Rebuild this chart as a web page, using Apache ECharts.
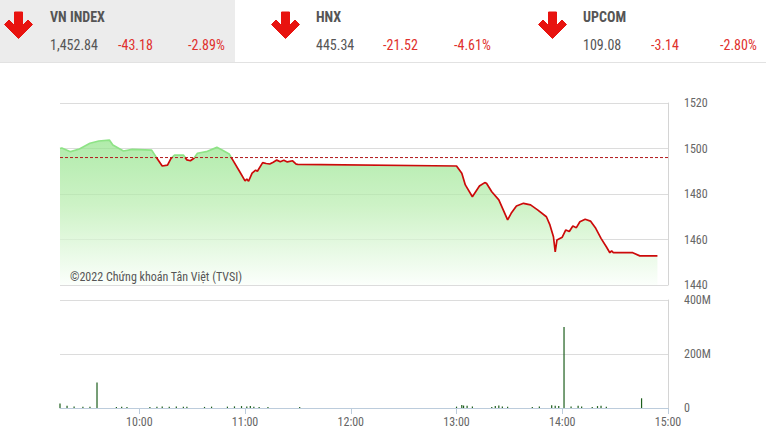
<!DOCTYPE html>
<html>
<head>
<meta charset="utf-8">
<script src="https://cdn.jsdelivr.net/npm/echarts@6/dist/echarts.min.js"></script>
<style>
html,body{margin:0;padding:0;background:#fff;}
#c{width:766px;height:441px;}
</style>
</head>
<body>
<div id="c"></div>
<script>
// ---- Data ----
const indexNames = ['VN INDEX', 'HNX', 'UPCOM'];
const indexValues = ['1,452.84', '445.34', '109.08'];
const indexChanges = ['-43.18', '-21.52', '-3.14'];
const indexPercents = ['-2.89%', '-4.61%', '-2.80%'];

const prevClose = 1496.02;
const priceTimes = ['09:15','09:16','09:21','09:26','09:32','09:37','09:43','09:45','09:51','09:56','10:07','10:10','10:13','10:16','10:18','10:20','10:25','10:27','10:29','10:31','10:33','10:38','10:44','10:47','10:51','10:53','10:57','11:00','11:01','11:02','11:04','11:06','11:07','11:10','11:12','11:14','11:16','11:18','11:20','11:22','11:24','11:27','11:29','11:30','13:00','13:03','13:05','13:09','13:13','13:16','13:17','13:20','13:24','13:29','13:31','13:34','13:38','13:42','13:46','13:51','13:53','13:55','13:56','13:57','14:00','14:02','14:04','14:06','14:08','14:10','14:13','14:16','14:19','14:22','14:25','14:27','14:28','14:29','14:40','14:44','14:54'];
const priceValues = [1500.0,1500.2,1498.6,1499.8,1502.3,1503.3,1503.7,1501.5,1498.9,1499.6,1499.3,1495.7,1492.3,1492.7,1495.7,1497.1,1497.1,1495.0,1494.6,1495.7,1497.9,1498.6,1500.5,1499.3,1497.6,1495.0,1489.8,1485.8,1486.6,1485.6,1489.2,1490.5,1490.0,1493.8,1493.4,1493.2,1494.0,1494.9,1494.2,1494.8,1494.1,1494.6,1493.1,1493.0,1492.3,1489.1,1484.0,1478.8,1483.5,1485.0,1484.7,1481.0,1477.4,1468.6,1471.5,1474.7,1475.9,1475.2,1473.0,1470.0,1466.4,1461.2,1454.6,1459.8,1461.0,1464.2,1463.5,1465.9,1465.2,1467.8,1468.9,1468.1,1464.9,1460.5,1456.8,1454.2,1455.0,1454.2,1454.2,1452.8,1452.8];

const volTimes = ['09:15','09:19','09:23','09:28','09:32','09:36','09:47','09:50','09:53','10:06','10:10','10:13','10:17','10:21','10:25','10:27','10:37','10:41','10:50','10:54','10:58','11:01','11:03','11:05','11:08','11:13','11:31','13:00','13:03','13:04','13:06','13:09','13:20','13:22','13:24','13:26','13:29','13:43','13:47','13:54','13:56','13:58','14:01','14:05','14:09','14:11','14:17','14:20','14:22','14:25','14:45'];
const volValues = [17,8,6,5,5,94,4,5,4,4,5,6,5,6,5,5,4,5,5,6,7,6,7,5,4,4,4,5,11,9,8,6,4,7,9,6,5,4,6,10,8,7,300,6,8,6,4,7,8,5,36];

const timeTicks = ['10:00','11:00','12:00','13:00','14:00','15:00'];
const priceTicks = [1440, 1460, 1480, 1500, 1520];
const volTicks = [0, 200, 400];
const watermark = '©2022 Chứng khoán Tân Việt (TVSI)';

// ---- Helpers ----
function toMin(s){ const p = s.split(':'); return (+p[0])*60 + (+p[1]); }
function fmtMin(v){ const h = Math.floor(v/60), m = Math.round(v%60); return h + ':' + (m<10?'0':'') + m; }

const FONT = "'Liberation Sans Narrow', 'Roboto Condensed', Roboto, sans-serif";
const xMin = toMin('09:15'), xMax = toMin('15:00');
const tickVals = timeTicks.map(toMin);

const chart = echarts.init(document.getElementById('c'), null, {renderer:'svg'});

// header graphics
const graphics = [];
graphics.push({type:'rect', shape:{x:0,y:0,width:235,height:62}, style:{fill:'#ececec'}, silent:true, z:0});
graphics.push({type:'line', shape:{x1:0,y1:62.5,x2:766,y2:62.5}, style:{stroke:'#e2e2e2', lineWidth:1}, silent:true});
const headerX = [0, 267, 534];
function arrow(dx){
  const pts = [[14.5,12],[22.5,12],[22.5,25.5],[28,20],[32.5,24.5],[18.5,38.5],[4.5,24.5],[9,20],[14.5,25.5]];
  return {type:'polygon', shape:{points: pts.map(p=>[p[0]+dx, p[1]])}, style:{fill:'#e8130f', stroke:'#e8130f', lineWidth:1, lineJoin:'round'}, silent:true};
}
const valX = [50, 316, 583], chgX = [118, 383, 651], pctX = [188, 454, 720];
for (let i=0;i<3;i++){
  graphics.push(arrow(headerX[i]));
  graphics.push({type:'text', x: valX[i], y: 17, style:{text: indexNames[i], fill:'#555', font:"bold 14px " + FONT, textVerticalAlign:'middle'}, silent:true});
  graphics.push({type:'text', x: valX[i], y: 45, style:{text: indexValues[i], fill:'#555', font:"14px " + FONT, textVerticalAlign:'middle'}, silent:true});
  graphics.push({type:'text', x: chgX[i], y: 45, style:{text: indexChanges[i], fill:'#e0302c', font:"14px " + FONT, textVerticalAlign:'middle'}, silent:true});
  graphics.push({type:'text', x: pctX[i], y: 45, style:{text: indexPercents[i], fill:'#e0302c', font:"14px " + FONT, textVerticalAlign:'middle'}, silent:true});
}
graphics.push({type:'text', x:70, y:277, style:{text: watermark, fill:'#555', font:"12px " + FONT, textVerticalAlign:'middle'}, silent:true, z:10});

const priceData = priceTimes.map((t,i)=>[toMin(t), priceValues[i]]);
const volData = volTimes.map((t,i)=>[toMin(t), volValues[i]]);
const refData = [[xMin, prevClose], [xMax, prevClose]];

chart.setOption({
  animation:false,
  textStyle:{fontFamily: FONT},
  graphic: graphics,
  grid:[
    {left:60, right:98, top:103, height:182},
    {left:60, right:98, top:300, height:108}
  ],
  xAxis:[
    {type:'value', gridIndex:0, min:xMin, max:xMax, show:true,
     axisLine:{show:false}, axisTick:{show:false}, axisLabel:{show:false}, splitLine:{show:false}},
    {type:'value', gridIndex:1, min:xMin, max:xMax,
     axisLine:{show:true, onZero:false, lineStyle:{color:'#bcccdc', width:1}},
     axisTick:{show:true, length:6, customValues: tickVals, lineStyle:{color:'#bcccdc'}},
     axisLabel:{show:true, customValues: tickVals, formatter: v=>fmtMin(v), color:'#666', fontSize:12, margin:8, fontFamily: FONT},
     splitLine:{show:false}}
  ],
  yAxis:[
    {type:'value', gridIndex:0, position:'right', min:priceTicks[0], max:priceTicks[priceTicks.length-1], interval:20,
     axisLine:{show:true, lineStyle:{color:'#d4d4d4'}}, axisTick:{show:false},
     axisLabel:{color:'#666', fontSize:12, margin:16, fontFamily: FONT, formatter: v => String(v)},
     splitLine:{show:true, lineStyle:{color:'#dcdcdc'}}},
    {type:'value', gridIndex:1, position:'right', min:volTicks[0], max:volTicks[volTicks.length-1], interval:200,
     axisLine:{show:true, lineStyle:{color:'#d4d4d4'}}, axisTick:{show:false},
     axisLabel:{color:'#666', fontSize:12, margin:16, fontFamily: FONT, formatter: v => v===0 ? '0' : v + 'M'},
     splitLine:{show:true, lineStyle:{color:'#dcdcdc'}}}
  ],
  visualMap:{
    show:false, type:'piecewise', seriesIndex:0, dimension:1,
    pieces:[{min: prevClose, max: 2000, color:'#8ee386'}, {min: 1000, max: prevClose, color:'#cc0a0a'}]
  },
  series:[
    {type:'line', xAxisIndex:0, yAxisIndex:0, data: priceData, showSymbol:false, symbol:'none',
     lineStyle:{width:1.7},
     areaStyle:{origin:'start', color: new echarts.graphic.LinearGradient(0,0,0,1,[
       {offset:0, color:'#8fe387'}, {offset:0.45, color:'#b8edae'}, {offset:1, color:'#fafffa'}])},
     z:3},
    {type:'line', xAxisIndex:0, yAxisIndex:0, data: refData, showSymbol:false, symbol:'none', silent:true,
     lineStyle:{color:'#b3191c', type:[3,2], width:1}, itemStyle:{color:'#b3191c'}, z:4},
    {type:'bar', xAxisIndex:1, yAxisIndex:1, data: volData, barWidth:1.2,
     itemStyle:{color:'#1c5e1c'}}
  ]
});
</script>
</body>
</html>
